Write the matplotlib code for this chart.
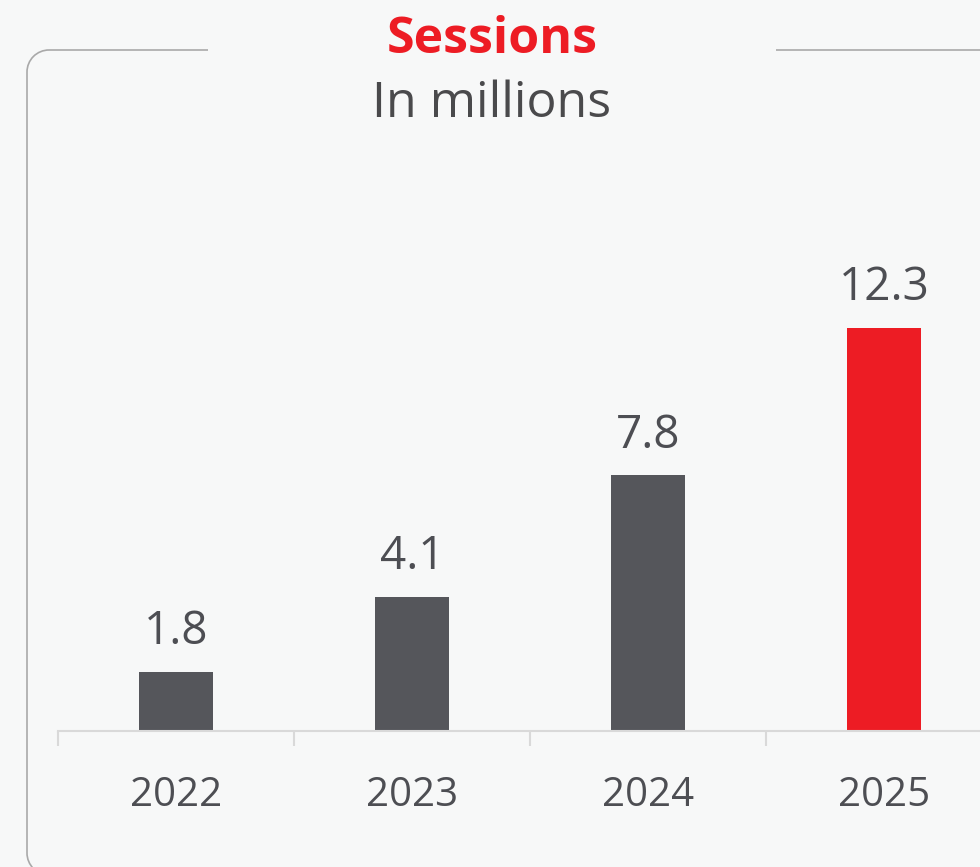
#sessions bar chart, in millions, last year highlighted
import numpy as np
import matplotlib.pyplot as plt
from matplotlib.patches import Arc

#data
years = ["2022", "2023", "2024", "2025"]
sessions = [1.8, 4.1, 7.8, 12.3]
bar_colors = ["#55565b", "#55565b", "#55565b", "#ed1c24"]

bg = "#f7f8f8"
text_gray = "#4d4e53"
plt.rcParams["font.family"] = ["Open Sans", "DejaVu Sans"]

W, H = 980, 867
fig = plt.figure(figsize=(W / 100, H / 100), dpi=100, facecolor=bg)

#frame around the chart, drawn in pixel coords on an overlay axes
frame = fig.add_axes([0, 0, 1, 1], zorder=0)
frame.set_xlim(0, W)
frame.set_ylim(H, 0)
frame.axis("off")
line_col = "#a9a9a9"
border = dict(color=line_col, lw=1.2, solid_capstyle="butt")
r = 22
x0, y0, y1 = 27, 50, 875
frame.plot([x0 + r, 208], [y0, y0], **border)
frame.plot([776, W + 10], [y0, y0], **border)
frame.plot([x0, x0], [y0 + r, y1 - r], **border)
frame.plot([x0 + r, W + 10], [y1, y1], **border)
frame.add_patch(Arc((x0 + r, y0 + r), 2 * r, 2 * r, theta1=180, theta2=270,
                    color=line_col, lw=1.2))
frame.add_patch(Arc((x0 + r, y1 - r), 2 * r, 2 * r, theta1=90, theta2=180,
                    color=line_col, lw=1.2))

frame.text(492, 40, "Sessions", ha="center", va="center", fontsize=36,
           fontweight="bold", color="#ed1c24")
frame.text(492, 104, "In millions", ha="center", va="center", fontsize=36,
           color="#4a4a4c")

#bars
px_per_unit = 32.76
ymax = 14
ax_left, ax_right, ax_base = 58, 1002, 731
ax_h = ymax * px_per_unit
ax = fig.add_axes([ax_left / W, (H - ax_base) / H, (ax_right - ax_left) / W, ax_h / H],
                  zorder=1)
ax.patch.set_alpha(0)
x = np.arange(len(years))
ax.bar(x, sessions, width=0.314, color=bar_colors)
for xi, v in zip(x, sessions):
    ax.annotate(f"{v}", (xi, v), xytext=(0, 12), textcoords="offset points",
                ha="center", va="bottom", fontsize=33, color=text_gray)

ax.set_xlim(-0.5, 3.5)
ax.set_ylim(0, ymax)
for s in ["top", "right", "left"]:
    ax.spines[s].set_visible(False)
ax.spines["bottom"].set_color("#d9d9d9")
ax.spines["bottom"].set_linewidth(1.5)
ax.set_yticks([])
ax.set_xticks(np.arange(-0.5, 4, 1))
ax.set_xticklabels([])
ax.tick_params(axis="x", which="major", length=11, width=1.5, color="#d9d9d9")
ax.set_xticks(x, minor=True)
ax.set_xticklabels(years, minor=True)
ax.tick_params(axis="x", which="minor", length=0, pad=32, labelsize=29,
               labelcolor=text_gray)

fig.savefig("out.png", dpi=100, facecolor=bg)
